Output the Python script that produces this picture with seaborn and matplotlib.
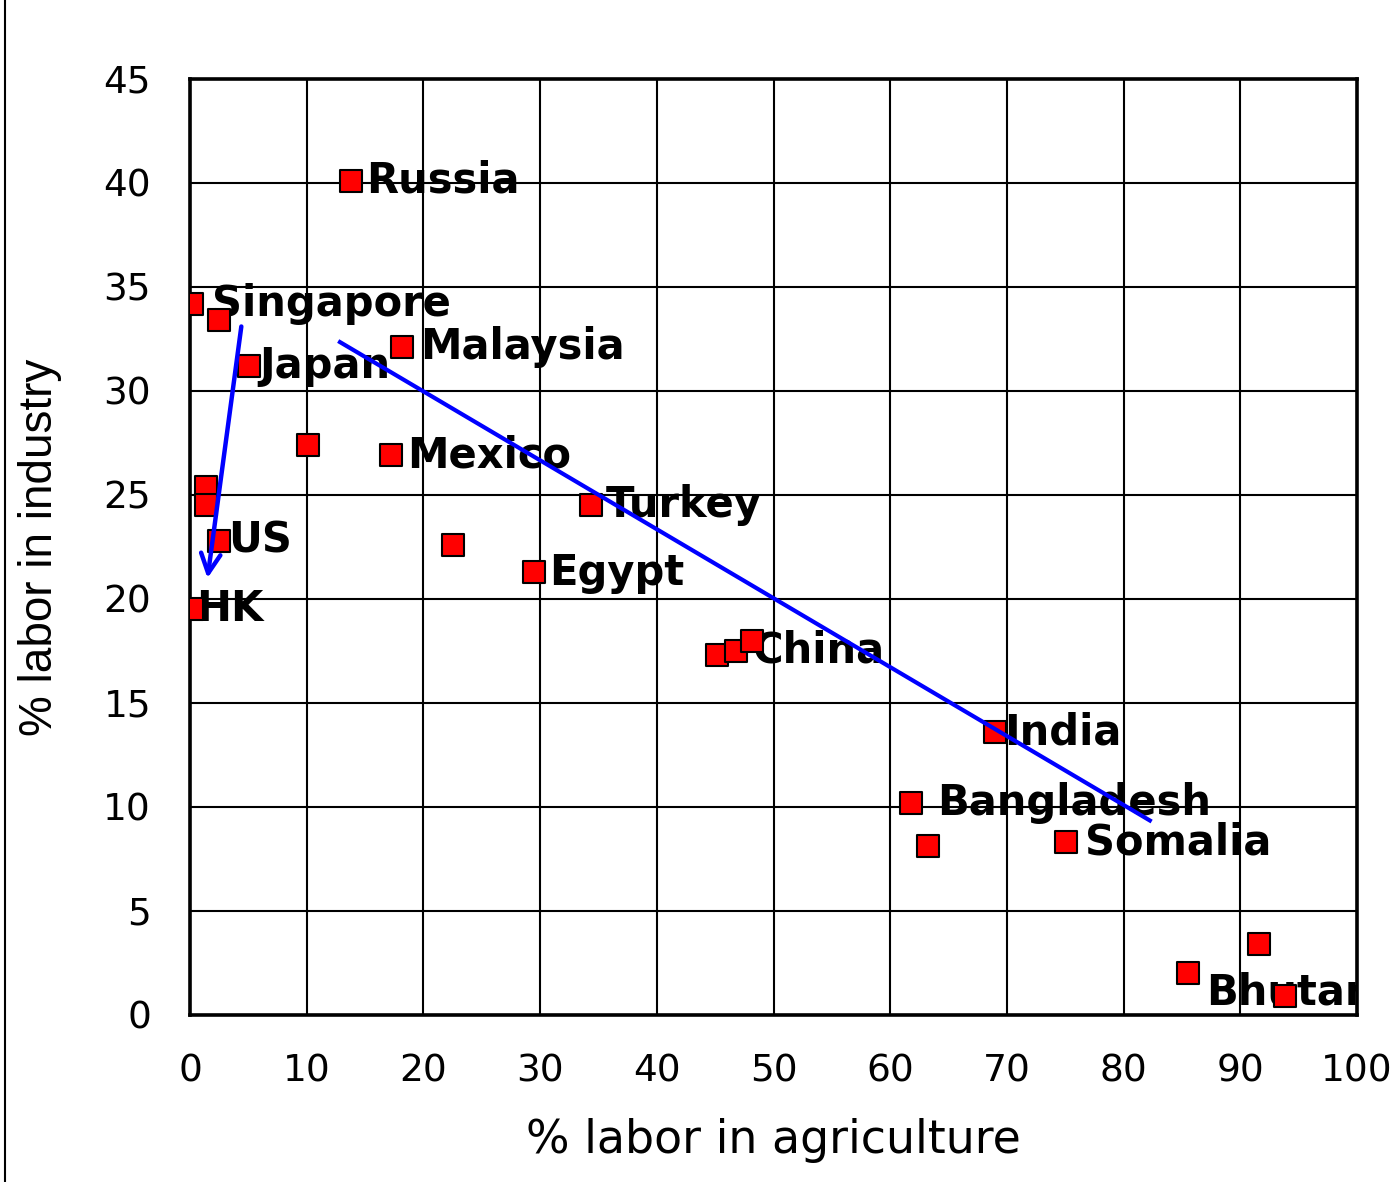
import pandas as pd
import matplotlib
matplotlib.use("Agg")
import matplotlib.pyplot as plt
import seaborn as sns
from matplotlib.lines import Line2D

# data
agri = [13.8, 0.2, 2.5, 5.1, 18.2, 10.1, 17.2, 1.4, 1.4, 2.5, 22.5, 34.4, 29.5,
        0.2, 45.2, 46.8, 48.2, 69.0, 61.8, 63.2, 75.1, 85.5, 91.6, 93.8]
industry = [40.1, 34.2, 33.4, 31.2, 32.1, 27.4, 26.9, 25.4, 24.5, 22.8, 22.6, 24.5, 21.3,
            19.5, 17.3, 17.5, 18.0, 13.6, 10.2, 8.1, 8.3, 2.0, 3.4, 0.9]

countries = ['Russia', 'Singapore', 'Japan', 'Malaysia', 'Mexico', 'Turkey', 'US',
             'Egypt', 'HK', 'China', 'India', 'Bangladesh', 'Somalia', 'Bhutan']
label_x = [15.1, 1.9, 5.9, 19.7, 18.6, 35.6, 3.3, 30.8, 0.5, 48.2, 69.8, 64.0, 76.7, 87.1]
label_y = [40.1, 34.2, 31.2, 32.1, 26.9, 24.5, 22.8, 21.25, 19.5, 17.5, 13.6, 10.2, 8.3, 1.06]

# trend line and arrow (start, end)
trend = [(12.7, 32.4), (82.4, 9.3)]
arrow = [(4.4, 33.1), (1.5, 21.0)]

df = pd.DataFrame({'agri': agri, 'industry': industry})

sns.set_style("white")
plt.rcParams['font.family'] = ['DejaVu Sans']
plt.rcParams['text.color'] = 'black'
plt.rcParams['axes.labelcolor'] = 'black'
plt.rcParams['xtick.color'] = 'black'
plt.rcParams['ytick.color'] = 'black'

fig = plt.figure(figsize=(14, 11.82), dpi=100)
ax = fig.add_axes([0.1357, 0.1413, 0.8336, 0.7919])

for name, lx, ly in zip(countries, label_x, label_y):
    ax.text(lx, ly, name, fontsize=30, fontweight='bold', color='black',
            ha='left', va='center', zorder=3, clip_on=True)

sns.scatterplot(data=df, x='agri', y='industry', marker='s', s=230, color='#ff0000',
                edgecolor='black', linewidth=1.5, zorder=4, ax=ax)

ax.plot([trend[0][0], trend[1][0]], [trend[0][1], trend[1][1]], color='#0000ff',
        lw=3.0, zorder=5, solid_capstyle='butt')
ax.annotate('', xy=arrow[1], xytext=arrow[0],
            arrowprops=dict(arrowstyle='->', color='#0000ff', lw=3.2,
                            mutation_scale=35, shrinkA=0, shrinkB=0), zorder=5)

ax.set_xlim(0, 100)
ax.set_ylim(0, 45)
ax.set_xticks(range(0, 101, 10))
ax.set_yticks(range(0, 46, 5))
ax.grid(True, color='black', lw=1.5)
ax.set_axisbelow(True)
for sp in ax.spines.values():
    sp.set_color('black')
    sp.set_linewidth(2.6)
ax.tick_params(axis='both', length=0, labelsize=27, pad=28)

ax.set_xlabel('% labor in agriculture', fontsize=33, labelpad=20)
ax.set_ylabel('% labor in industry', fontsize=33, labelpad=30,
              family=['Liberation Sans'])

# slide border on the left
fig.add_artist(Line2D([0.0036, 0.0036], [0, 1], color='black', lw=1.5))

fig.savefig('out.png', dpi=100)
